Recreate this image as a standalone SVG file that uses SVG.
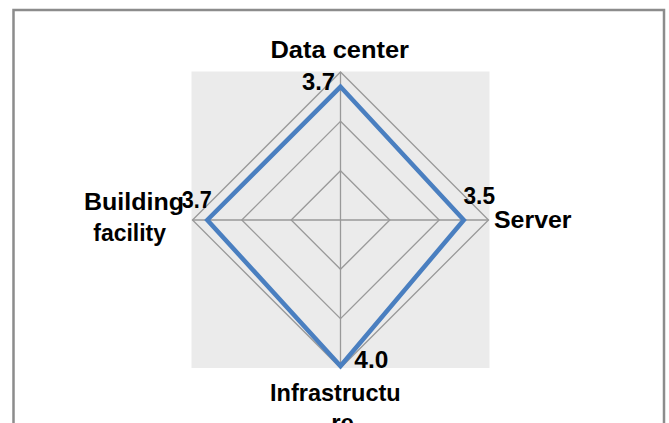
<svg xmlns="http://www.w3.org/2000/svg" width="669" height="423" viewBox="0 0 669 423">
<style>
.lbl{font-family:"Liberation Sans",Arial,sans-serif;font-weight:bold;font-size:24px;fill:#000}
.num{font-family:"Liberation Sans",Arial,sans-serif;font-weight:bold;font-size:23px;fill:#000}
.grid{fill:none;stroke:#999;stroke-width:1.3}
.series{fill:none;stroke:#4a7fc0;stroke-width:4.5;stroke-linejoin:miter}
</style>
<rect width="669" height="423" fill="#fff"/>
<path d="M13.5,423 V10 H664 V423" fill="none" stroke="#8c8c8c" stroke-width="2.5"/>
<rect x="191.5" y="71.5" width="298" height="296.5" fill="#ebebeb"/>
<g id="grid">
<polygon class="grid" points="340.5,170.7 389.8,220 340.5,269.3 291.2,220"/>
<polygon class="grid" points="340.5,121.3 439.2,220 340.5,318.7 241.8,220"/>
<polygon class="grid" points="340.5,72 488.5,220 340.5,368 192.5,220"/>
<line class="grid" x1="340.5" y1="72" x2="340.5" y2="368"/>
<line class="grid" x1="192.5" y1="220" x2="488.5" y2="220"/>
</g>
<g id="series">
<polygon class="series" points="340.5,86.8 463.8,220 340.5,366 207.3,220"/>
</g>
<g id="data-center">
<text class="lbl" x="270.5" y="58.3" textLength="138.5" lengthAdjust="spacingAndGlyphs">Data center</text>
<text class="num" x="302" y="90" textLength="33" lengthAdjust="spacingAndGlyphs">3.7</text>
</g>
<g id="server">
<text class="num" x="463.5" y="203.5" textLength="31.5" lengthAdjust="spacingAndGlyphs">3.5</text>
<text class="lbl" x="494" y="228" textLength="77.5" lengthAdjust="spacingAndGlyphs">Server</text>
</g>
<g id="infrastructure">
<text class="num" x="354.3" y="368" textLength="34" lengthAdjust="spacingAndGlyphs">4.0</text>
<text class="lbl" x="270" y="400.5" textLength="130.7" lengthAdjust="spacingAndGlyphs">Infrastructu</text>
<text class="lbl" x="342.5" y="431" text-anchor="middle">re</text>
</g>
<g id="building-facility">
<text class="lbl" x="84" y="210" textLength="100" lengthAdjust="spacingAndGlyphs">Building</text>
<text class="lbl" x="93.3" y="240.5" textLength="72.7" lengthAdjust="spacingAndGlyphs">facility</text>
<text class="num" x="181.7" y="208" textLength="30" lengthAdjust="spacingAndGlyphs">3.7</text>
</g>
</svg>
